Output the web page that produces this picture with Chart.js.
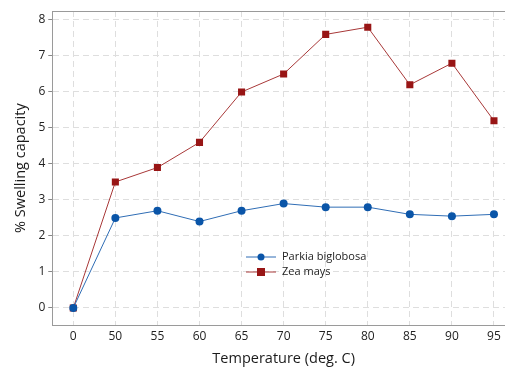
<!DOCTYPE html>
<html>
<head>
<meta charset="utf-8">
<script src="https://cdn.jsdelivr.net/npm/chart.js@4"></script>
<style>
    html, body { margin: 0; padding: 0; background: #fff; overflow: hidden; }
    #wrap { width: 520px; height: 368px; position: relative; }
</style>
</head>
<body>
<div id="wrap"><canvas id="swellChart" width="520" height="368"></canvas></div>
<script>
// Temperature categories (deg. C)
const temperatures = ['0', '50', '55', '60', '65', '70', '75', '80', '85', '90', '95'];

// % swelling capacity
const parkiaValues = [0, 2.5, 2.7, 2.4, 2.7, 2.9, 2.8, 2.8, 2.6, 2.55, 2.6];
const zeaValues    = [0, 3.5, 3.9, 4.6, 6.0, 6.5, 7.6, 7.8, 6.2, 6.8, 5.2];

const yTicks = [0, 1, 2, 3, 4, 5, 6, 7, 8];

const FONT = '"Open Sans", "DejaVu Sans", sans-serif';

/* ── In-plot legend ───────────────────────────────────────────── */
const insideLegend = {
    id: 'insideLegend',
    afterDatasetsDraw(chart) {
        const ctx = chart.ctx;
        const x0 = 246, rowY = [257, 272];
        chart.data.datasets.forEach((ds, i) => {
            const y = rowY[i];
            ctx.save();
            ctx.strokeStyle = ds.borderColor;
            ctx.lineWidth = 1;
            ctx.beginPath();
            ctx.moveTo(x0, y);
            ctx.lineTo(x0 + 30, y);
            ctx.stroke();
            ctx.fillStyle = ds.pointBackgroundColor;
            if (ds.pointStyle === 'circle') {
                ctx.beginPath();
                ctx.arc(x0 + 15, y, 3.5, 0, Math.PI * 2);
                ctx.fill();
            } else {
                ctx.fillRect(x0 + 11, y - 4, 8, 8);
            }
            ctx.fillStyle = '#222';
            ctx.font = '11px ' + FONT;
            ctx.textBaseline = 'middle';
            ctx.fillText(ds.label, x0 + 36, y);
            ctx.restore();
        });
    }
};

new Chart(document.getElementById('swellChart'), {
    type: 'line',
    data: {
        labels: temperatures,
        datasets: [
            {
                label: 'Parkia biglobosa',
                data: parkiaValues,
                borderColor: '#2f6db5',
                borderWidth: 1,
                pointStyle: 'circle',
                pointRadius: 4,
                pointBackgroundColor: '#0a55a8',
                pointBorderColor: '#0a55a8',
                pointBorderWidth: 0,
                tension: 0
            },
            {
                label: 'Zea mays',
                data: zeaValues,
                borderColor: '#a83838',
                borderWidth: 1,
                pointStyle: 'rect',
                pointRadius: 5,
                pointBackgroundColor: '#981515',
                pointBorderColor: '#981515',
                pointBorderWidth: 0,
                tension: 0
            }
        ]
    },
    options: {
        responsive: false,
        animation: false,
        layout: { padding: { top: 11, left: 12, right: 0, bottom: 0 } },
        plugins: {
            legend: { display: false },
            tooltip: { enabled: false }
        },
        scales: {
            x: {
                type: 'category',
                offset: true,
                grid: {
                    display: true,
                    offset: false,
                    color: '#dedede',
                    drawTicks: false
                },
                border: { display: true, color: '#9a9a9a', width: 1, dash: [6, 4] },
                ticks: {
                    color: '#222',
                    padding: 4,
                    font: { family: FONT, size: 12 }
                },
                title: {
                    display: true,
                    text: 'Temperature (deg. C)',
                    color: '#1a1a1a',
                    padding: { top: 3, bottom: 0 },
                    font: { family: FONT, size: 14.5 }
                }
            },
            y: {
                min: -0.48,
                max: 8.25,
                afterBuildTicks: axis => { axis.ticks = yTicks.map(v => ({ value: v })); },
                grid: {
                    color: '#dedede',
                    drawTicks: true,
                    tickLength: 4,
                    tickColor: '#888',
                    tickBorderDash: []
                },
                border: { display: true, color: '#9a9a9a', width: 1, dash: [6, 4] },
                ticks: {
                    color: '#222',
                    padding: 3,
                    font: { family: FONT, size: 12 }
                },
                title: {
                    display: true,
                    text: '% Swelling capacity',
                    color: '#1a1a1a',
                    padding: { top: 0, bottom: 6 },
                    font: { family: FONT, size: 14.5 }
                }
            }
        }
    },
    plugins: [insideLegend, {
        id: 'topBorder',
        afterDraw(chart) {
            const { ctx, chartArea } = chart;
            ctx.save();
            ctx.strokeStyle = '#9a9a9a';
            ctx.lineWidth = 1;
            ctx.beginPath();
            ctx.moveTo(chartArea.left, chartArea.top + 0.5);
            ctx.lineTo(chartArea.right, chartArea.top + 0.5);
            ctx.stroke();
            ctx.restore();
        }
    }]
});
</script>
</body>
</html>
